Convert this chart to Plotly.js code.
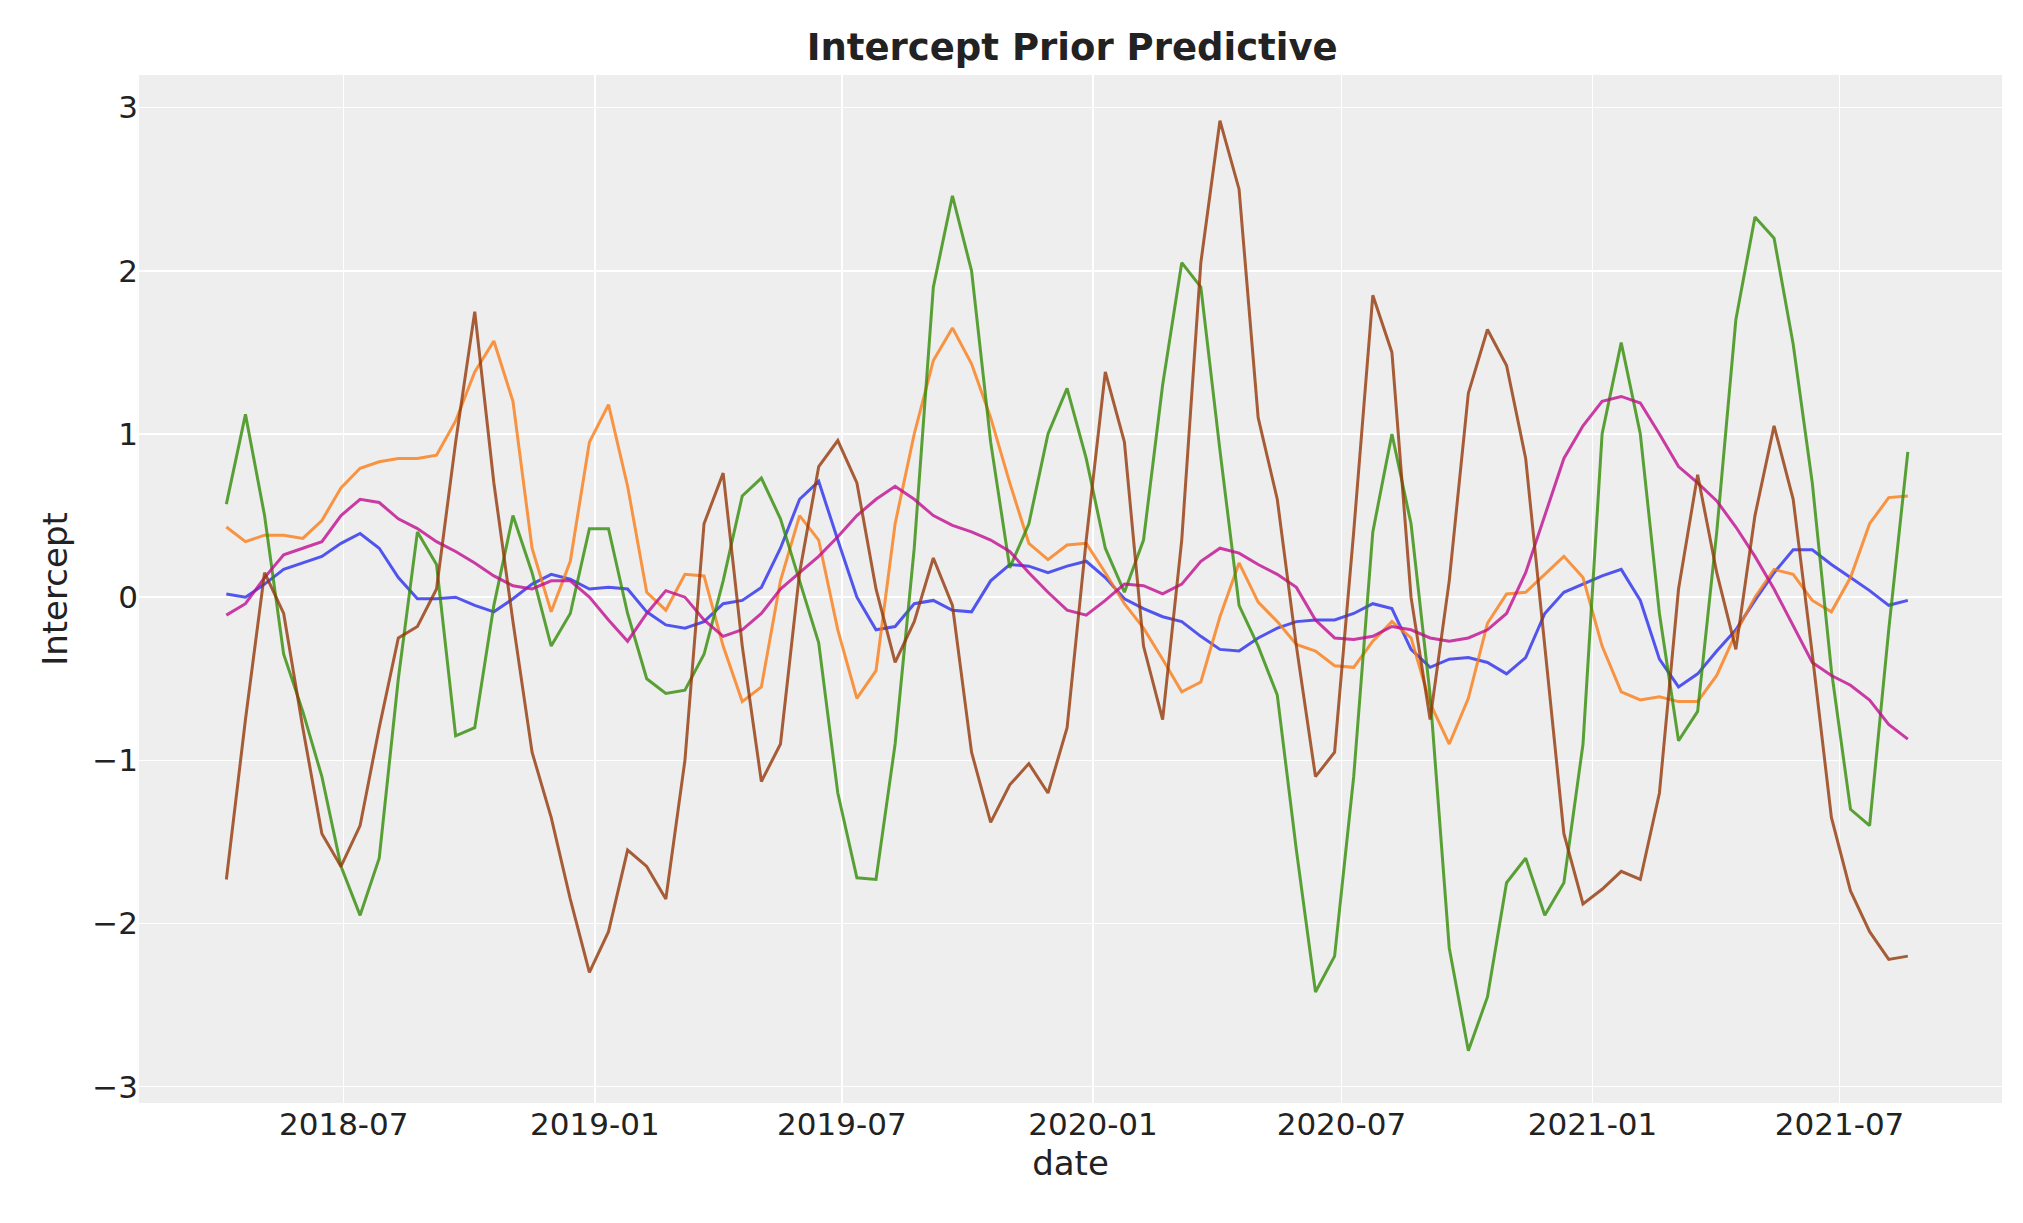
<!DOCTYPE html>
<html>
<head>
<meta charset="utf-8">
<script src="https://cdn.plot.ly/plotly-3.0.1.min.js"></script>
<style>html,body{margin:0;padding:0;background:#fff;}</style>
</head>
<body>
<div id="chart"></div>
<script>
// biweekly samples
const startDate = '2018-04-06';
const stepDays = 14;

const blue = [0.02,0.0,0.08,0.17,0.21,0.25,0.33,0.39,0.3,0.12,-0.01,-0.01,0.0,-0.05,-0.09,-0.01,0.08,0.14,0.11,0.05,0.06,0.05,-0.09,-0.17,-0.19,-0.15,-0.04,-0.02,0.06,0.3,0.6,0.71,0.35,0.0,-0.2,-0.18,-0.04,-0.02,-0.08,-0.09,0.1,0.2,0.19,0.15,0.19,0.22,0.12,-0.01,-0.07,-0.12,-0.15,-0.24,-0.32,-0.33,-0.25,-0.19,-0.15,-0.14,-0.14,-0.1,-0.04,-0.07,-0.32,-0.43,-0.38,-0.37,-0.4,-0.47,-0.37,-0.1,0.03,0.08,0.13,0.17,-0.02,-0.38,-0.55,-0.47,-0.33,-0.2,-0.02,0.15,0.29,0.29,0.2,0.12,0.04,-0.05,-0.02];

const orange = [0.43,0.34,0.38,0.38,0.36,0.47,0.67,0.79,0.83,0.85,0.85,0.87,1.08,1.38,1.57,1.2,0.3,-0.09,0.22,0.95,1.18,0.68,0.03,-0.08,0.14,0.13,-0.3,-0.64,-0.55,0.1,0.5,0.35,-0.2,-0.62,-0.45,0.45,1.0,1.45,1.65,1.43,1.1,0.7,0.33,0.23,0.32,0.33,0.15,-0.04,-0.19,-0.38,-0.58,-0.52,-0.12,0.21,-0.03,-0.15,-0.29,-0.33,-0.42,-0.43,-0.27,-0.15,-0.25,-0.65,-0.9,-0.62,-0.16,0.02,0.03,0.14,0.25,0.12,-0.3,-0.58,-0.63,-0.61,-0.64,-0.64,-0.48,-0.22,0.0,0.17,0.14,-0.02,-0.09,0.12,0.45,0.61,0.62];

const green = [0.57,1.12,0.5,-0.35,-0.7,-1.1,-1.65,-1.95,-1.6,-0.5,0.4,0.2,-0.85,-0.8,-0.05,0.5,0.15,-0.3,-0.1,0.42,0.42,-0.1,-0.5,-0.59,-0.57,-0.35,0.1,0.62,0.73,0.48,0.1,-0.28,-1.2,-1.72,-1.73,-0.9,0.3,1.9,2.46,2.0,0.95,0.18,0.45,1.0,1.28,0.85,0.3,0.03,0.35,1.3,2.05,1.9,0.9,-0.05,-0.3,-0.6,-1.55,-2.42,-2.2,-1.1,0.4,1.0,0.45,-0.6,-2.15,-2.78,-2.45,-1.75,-1.6,-1.95,-1.75,-0.9,1.0,1.56,1.0,-0.1,-0.88,-0.7,0.4,1.7,2.33,2.2,1.55,0.7,-0.45,-1.3,-1.4,-0.2,0.89];

const magenta = [-0.11,-0.04,0.12,0.26,0.3,0.34,0.5,0.6,0.58,0.48,0.42,0.34,0.28,0.21,0.13,0.07,0.05,0.1,0.1,0.0,-0.14,-0.27,-0.1,0.04,0.0,-0.14,-0.24,-0.2,-0.1,0.05,0.15,0.25,0.37,0.5,0.6,0.68,0.6,0.5,0.44,0.4,0.35,0.28,0.15,0.03,-0.08,-0.11,-0.02,0.08,0.07,0.02,0.08,0.22,0.3,0.27,0.2,0.14,0.06,-0.14,-0.25,-0.26,-0.24,-0.18,-0.2,-0.25,-0.27,-0.25,-0.2,-0.1,0.15,0.5,0.85,1.05,1.2,1.23,1.19,1.0,0.8,0.7,0.59,0.43,0.25,0.05,-0.18,-0.4,-0.48,-0.54,-0.63,-0.78,-0.87];

const brown = [-1.73,-0.75,0.15,-0.1,-0.8,-1.45,-1.65,-1.4,-0.8,-0.25,-0.18,0.05,0.95,1.75,0.7,-0.15,-0.95,-1.35,-1.85,-2.3,-2.05,-1.55,-1.65,-1.85,-1.0,0.45,0.76,-0.3,-1.13,-0.9,0.15,0.8,0.96,0.7,0.05,-0.4,-0.15,0.24,-0.05,-0.95,-1.38,-1.15,-1.02,-1.2,-0.8,0.35,1.38,0.95,-0.3,-0.75,0.35,2.05,2.92,2.5,1.1,0.6,-0.3,-1.1,-0.95,0.4,1.85,1.5,0.0,-0.75,0.1,1.25,1.64,1.42,0.85,-0.3,-1.45,-1.88,-1.79,-1.68,-1.73,-1.2,0.05,0.75,0.15,-0.32,0.5,1.05,0.6,-0.35,-1.35,-1.8,-2.05,-2.22,-2.2];

const dates = blue.map((_, i) => {
    const d = new Date(startDate + 'T00:00:00Z');
    d.setUTCDate(d.getUTCDate() + i * stepDays);
    return d.toISOString().slice(0, 10);
});

const series = [
    { y: blue, color: '#2a2eec' },
    { y: orange, color: '#fa7c17' },
    { y: green, color: '#328c06' },
    { y: magenta, color: '#c10c90' },
    { y: brown, color: '#933708' }
];

const data = series.map(s => ({
    type: 'scatter',
    mode: 'lines',
    x: dates,
    y: s.y,
    opacity: 0.8,
    line: { color: s.color, width: 3 },
    showlegend: false
}));

const layout = {
    width: 2023,
    height: 1223,
    margin: { l: 139, r: 21, t: 75, b: 120 },
    paper_bgcolor: '#ffffff',
    plot_bgcolor: '#eeeeee',
    font: { family: 'DejaVu Sans', color: '#222222', size: 31 },
    title: {
        text: '<b>Intercept Prior Predictive</b>',
        font: { size: 37, family: 'DejaVu Sans', color: '#222222' },
        x: 0.53, xanchor: 'center', y: 0.972
    },
    xaxis: {
        type: 'date',
        range: ['2018-02-01', '2021-10-28'],
        tick0: '2018-01-01',
        dtick: 'M6',
        tickformat: '%Y-%m',
        gridcolor: '#ffffff',
        gridwidth: 1.5,
        showline: false,
        zeroline: false,
        ticks: '',
        title: { text: 'date', font: { size: 34 }, standoff: 10 }
    },
    yaxis: {
        range: [-3.1, 3.2],
        tickvals: [-3, -2, -1, 0, 1, 2, 3],
        ticktext: ['\u22123', '\u22122', '\u22121', '0', '1', '2', '3'],
        gridcolor: '#ffffff',
        gridwidth: 1.5,
        showline: false,
        zeroline: false,
        ticks: '',
        title: { text: 'Intercept', font: { size: 34 }, standoff: 14 }
    }
};

Plotly.newPlot('chart', data, layout, { displayModeBar: false, staticPlot: true });
</script>
</body>
</html>
